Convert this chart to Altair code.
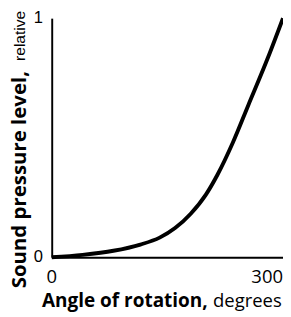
import altair as alt
import pandas as pd

angles = [0, 40, 80, 115, 140, 160, 180, 200, 215, 235, 255, 280, 300]
levels = [0.0, 0.010, 0.027, 0.053, 0.082, 0.122, 0.181, 0.262, 0.345, 0.48, 0.636, 0.831, 1.0]
x_ticks = [0, 300]
y_ticks = [0, 1]

df = pd.DataFrame({"angle": angles, "level": levels})
FONT = "Open Sans"
xs = alt.Scale(domain=[0, 300], nice=False)
ys = alt.Scale(domain=[0, 1], nice=False)
ax = dict(title=None, grid=False, ticks=False, labels=False, domainColor="black", domainWidth=2)

line = alt.Chart(df).mark_line(color="black", strokeWidth=4, interpolate="monotone", clip=False).encode(
    x=alt.X("angle:Q", scale=xs, axis=alt.Axis(values=x_ticks, **ax)),
    y=alt.Y("level:Q", scale=ys, axis=alt.Axis(values=y_ticks, **ax)),
)

xt = pd.DataFrame({"v": x_ticks})
yt = pd.DataFrame({"v": y_ticks})

xlab_first = alt.Chart(xt.iloc[:1]).mark_text(font=FONT, fontSize=19, color="black",
                                               align="center", baseline="alphabetic").encode(
    x=alt.X("v:Q", scale=xs), y=alt.value(273), text=alt.Text("v:Q", format="d"))
xlab_last = alt.Chart(xt.iloc[-1:]).mark_text(font=FONT, fontSize=19, color="black",
                                              align="right", baseline="alphabetic").encode(
    x=alt.X("v:Q", scale=xs), y=alt.value(273), text=alt.Text("v:Q", format="d"))
ylab = alt.Chart(yt).mark_text(font="Liberation Sans", fontSize=17, color="black",
                               align="right", baseline="middle").encode(
    y=alt.Y("v:Q", scale=ys), x=alt.value(-9), text=alt.Text("v:Q", format="d"))

def txt(s, x, y, bold, size, font, angle=0, baseline="alphabetic"):
    return alt.Chart(pd.DataFrame({"t": [s]})).mark_text(
        font=font, fontSize=size, fontWeight="bold" if bold else "normal",
        color="black", align="left", baseline=baseline, angle=angle,
    ).encode(text="t:N", x=alt.value(x), y=alt.value(y))

titles = (
    txt("Angle of rotation,", -10, 297, True, 19.5, FONT)
    + txt("degrees", 166, 297, False, 19, FONT)
    + txt("Sound pressure level,", -32, 278, True, 21, FONT, angle=270, baseline="middle")
    + txt("relative", -32, 44, False, 16, "Liberation Sans", angle=270, baseline="middle")
)

chart = alt.layer(line, xlab_first, xlab_last, ylab, titles).properties(
    width=238, height=246,
    padding={"left": 45, "top": 6, "right": 0, "bottom": 55},
    autosize=alt.AutoSizeParams(type="none"),
).configure_view(stroke=None)

chart.save("out.html", embed_options={"renderer": "svg", "actions": False})
